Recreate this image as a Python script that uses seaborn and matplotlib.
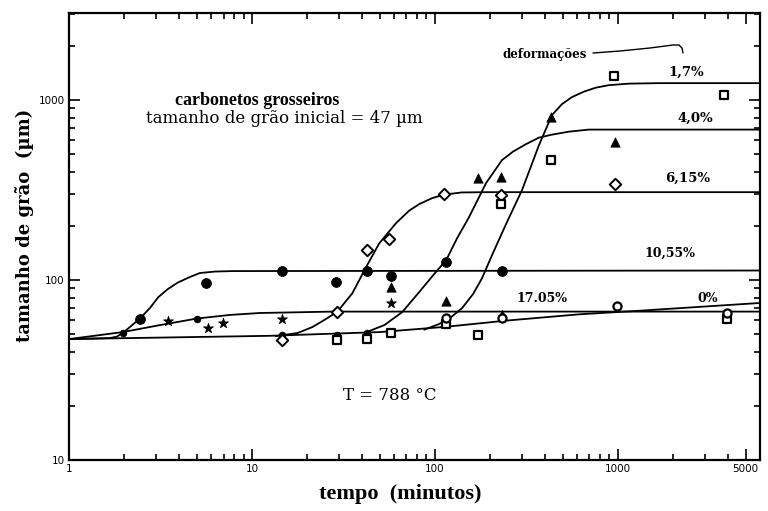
import numpy as np
import pandas as pd
import matplotlib
matplotlib.use("Agg")
import matplotlib.pyplot as plt
import seaborn as sns
from matplotlib.ticker import FixedLocator, FixedFormatter, LogLocator, NullFormatter

# ---------------- fitted curves ----------------
t_0 = [1, 12.5, 50, 115, 245, 614, 1300, 5890]
d_0 = [47, 49.0, 51.4, 55.0, 59.5, 64.5, 67.5, 74.5]

t_1705 = [1, 1.48, 1.97, 3.14, 4.99, 7.56, 11, 27.6, 5890]
d_1705 = [47, 49.5, 51.4, 56.2, 61.1, 64.0, 65.6, 66.8, 66.8]

t_1055 = [1, 1.67, 1.83, 1.97, 2.44, 2.77, 3.08, 3.47, 3.93, 4.57, 5.19, 6.26, 7.85, 5890]
d_1055 = [47, 47.6, 48.5, 50.8, 61.1, 69.9, 80.4, 89.1, 96.8, 103.9, 109.4, 111.5, 112.2, 113]

t_615 = [13.5, 17.8, 21.4, 24.9, 29.3, 35.4, 42.2, 49.7, 61.4, 72.5, 82.2, 96.8, 112.5, 141, 198, 5890]
d_615 = [48.8, 50.8, 54.8, 60.0, 66.7, 84.4, 118.5, 160, 207.3, 243.3, 264.4, 285.5, 298.5, 307, 308, 308]

t_40 = [41.2, 53.0, 66.4, 82.2, 99.2, 115.4, 132.5, 154, 190.7, 233, 267.7, 315, 371, 437, 541, 695.6, 5890]
d_40 = [50.8, 56.2, 66.4, 85.8, 108, 129, 171, 224, 346, 464, 517.5, 569, 619, 643, 668, 686, 686]

t_17 = [87.5, 105.7, 122.9, 141.1, 162.0, 181.4, 205.7, 245.2, 299.8, 371.2, 437, 495.5,
        561.7, 653.4, 759.5, 894.4, 1150, 1676, 5890]
d_17 = [53.0, 57.0, 62.3, 69.9, 83.7, 102.6, 137.7, 204.7, 316, 562, 825, 950,
        1039, 1115, 1173, 1211, 1235, 1243, 1243]

curve_names = ["0%", "17.05%", "10,55%", "6,15%", "4,0%", "1,7%"]
curve_t = [t_0, t_1705, t_1055, t_615, t_40, t_17]
curve_d = [d_0, d_1705, d_1055, d_615, d_40, d_17]

# ---------------- measured points ----------------
circ_f_t = [2.44, 5.6, 14.7, 29, 42.8, 57.8, 115, 233]
circ_f_d = [61.0, 96, 112, 98, 113, 106, 126, 112]

dot_t = [1.97, 4.99, 14.7, 29.3, 42.8]
dot_d = [50.8, 60.7, 49.5, 49.5, 50.8]

star_t = [3.47, 5.73, 6.92, 14.7, 57.8]
star_d = [59.2, 54.3, 57.4, 60.7, 74.5]

tri_t = [57.8, 115, 173, 230, 432, 965]
tri_d = [92, 76.4, 369, 373, 805, 584]

tri_s_t = [233]
tri_s_d = [65.6]

diam_t = [14.7, 29.3, 42.8, 56.4, 112.5, 230, 965]
diam_d = [46.4, 66.7, 147, 169, 300, 297, 342]

sq_t = [29.3, 42.8, 57.8, 115, 173, 230, 432, 952, 3794, 3940]
sq_d = [46.4, 47.0, 50.5, 57.0, 49.5, 264, 464, 1359, 1067, 61]

circ_o_t = [115, 233, 989, 3940]
circ_o_d = [61.5, 61.5, 71.7, 66]

x_ticks = [1, 10, 100, 1000, 5000]
x_tick_labels = ["1", "10", "100", "1000", "5000"]
y_ticks = [10, 100, 1000]
y_tick_labels = ["10", "100", "1000"]

# ---------------- figure ----------------
sns.set_style("ticks")
plt.rcParams['font.family'] = ['DejaVu Serif']
plt.rcParams['text.color'] = 'black'
plt.rcParams['axes.labelcolor'] = 'black'
plt.rcParams['xtick.color'] = 'black'
plt.rcParams['ytick.color'] = 'black'

fig = plt.figure(figsize=(7.68, 5.11), dpi=100)
ax = fig.add_axes([69 / 768, 1 - 460 / 511, 691 / 768, 447 / 511])
ax.set_xscale("log")
ax.set_yscale("log")

curves = pd.concat(
    [pd.DataFrame({"t": t, "d": d, "curve": n}) for n, t, d in zip(curve_names, curve_t, curve_d)],
    ignore_index=True,
)
sns.lineplot(data=curves, x="t", y="d", units="curve", estimator=None, sort=False,
             color="black", lw=1.3, ax=ax, legend=False)

groups = [
    (circ_f_t, circ_f_d, dict(marker="o", s=50, facecolor="black", edgecolor="black")),
    (dot_t, dot_d, dict(marker="o", s=25, facecolor="black", edgecolor="black")),
    (star_t, star_d, dict(marker="*", s=55, facecolor="black", edgecolor="black")),
    (tri_t, tri_d, dict(marker="^", s=45, facecolor="black", edgecolor="black")),
    (tri_s_t, tri_s_d, dict(marker="^", s=22, facecolor="black", edgecolor="black")),
    (diam_t, diam_d, dict(marker="D", s=34, facecolor="white", edgecolor="black", linewidth=1.4)),
    (sq_t, sq_d, dict(marker="s", s=32, facecolor="white", edgecolor="black", linewidth=1.6)),
    (circ_o_t, circ_o_d, dict(marker="o", s=34, facecolor="white", edgecolor="black", linewidth=1.6)),
]
for tt, dd, kw in groups:
    sns.scatterplot(x=tt, y=dd, ax=ax, zorder=3, legend=False, **kw)

ax.set_xlim(1, 6000)
ax.set_ylim(10, 3050)

ax.xaxis.set_major_locator(FixedLocator(x_ticks))
ax.xaxis.set_major_formatter(FixedFormatter(x_tick_labels))
ax.xaxis.set_minor_locator(LogLocator(base=10, subs=np.arange(2, 10)))
ax.xaxis.set_minor_formatter(NullFormatter())
ax.yaxis.set_major_locator(FixedLocator(y_ticks))
ax.yaxis.set_major_formatter(FixedFormatter(y_tick_labels))
ax.yaxis.set_minor_locator(LogLocator(base=10, subs=np.arange(2, 10)))
ax.yaxis.set_minor_formatter(NullFormatter())

ax.tick_params(which="both", direction="in", top=True, right=True, width=1.2, color="black",
               labelcolor="black")
ax.tick_params(which="major", length=8, labelsize=7.5, pad=3)
ax.tick_params(which="minor", length=4.5)
for lab in ax.get_xticklabels() + ax.get_yticklabels():
    lab.set_family("DejaVu Sans")
for sp in ax.spines.values():
    sp.set_linewidth(1.6)
    sp.set_color("black")

ax.set_xlabel("")
ax.set_ylabel("")
fig.text(400 / 768, 1 - 494 / 511, "tempo  (minutos)", ha="center", va="center",
         fontsize=16, fontweight="bold", family="Liberation Serif", color="black")
fig.text(25 / 768, 1 - 225 / 511, "tamanho de grão  (µm)", ha="center", va="center",
         rotation=90, fontsize=13, fontweight="bold", color="black")

def axf(px, py):
    return ((px - 69) / 691, (460 - py) / 447)

texts = [
    ((257, 100), "carbonetos grosseiros", dict(fontsize=13, fontweight="bold", family="Liberation Serif")),
    ((284, 118), "tamanho de grão inicial = 47 µm", dict(fontsize=12)),
    ((390, 395), "T = 788 °C", dict(fontsize=12)),
    ((545, 54), "deformações", dict(fontsize=8.5, fontweight="bold")),
    ((686, 72), "1,7%", dict(fontsize=9.5, fontweight="bold")),
    ((695, 118), "4,0%", dict(fontsize=9.5, fontweight="bold")),
    ((688, 178), "6,15%", dict(fontsize=9.5, fontweight="bold")),
    ((670, 253), "10,55%", dict(fontsize=9, fontweight="bold")),
    ((542, 299), "17.05%", dict(fontsize=9, fontweight="bold")),
    ((708, 298), "0%", dict(fontsize=9, fontweight="bold")),
]
for (px, py), s, kw in texts:
    x, y = axf(px, py)
    ax.text(x, y, s, transform=ax.transAxes, ha="center", va="center", color="black", **kw)

conn_px = [593, 620, 650, 673, 679, 682, 683]
conn_py = [53, 51, 48, 45, 45, 48, 53]
cx = [(p - 69) / 691 for p in conn_px]
cy = [(460 - p) / 447 for p in conn_py]
ax.plot(cx, cy, transform=ax.transAxes, color="black", lw=1.0)

fig.savefig("out.png", dpi=100)
